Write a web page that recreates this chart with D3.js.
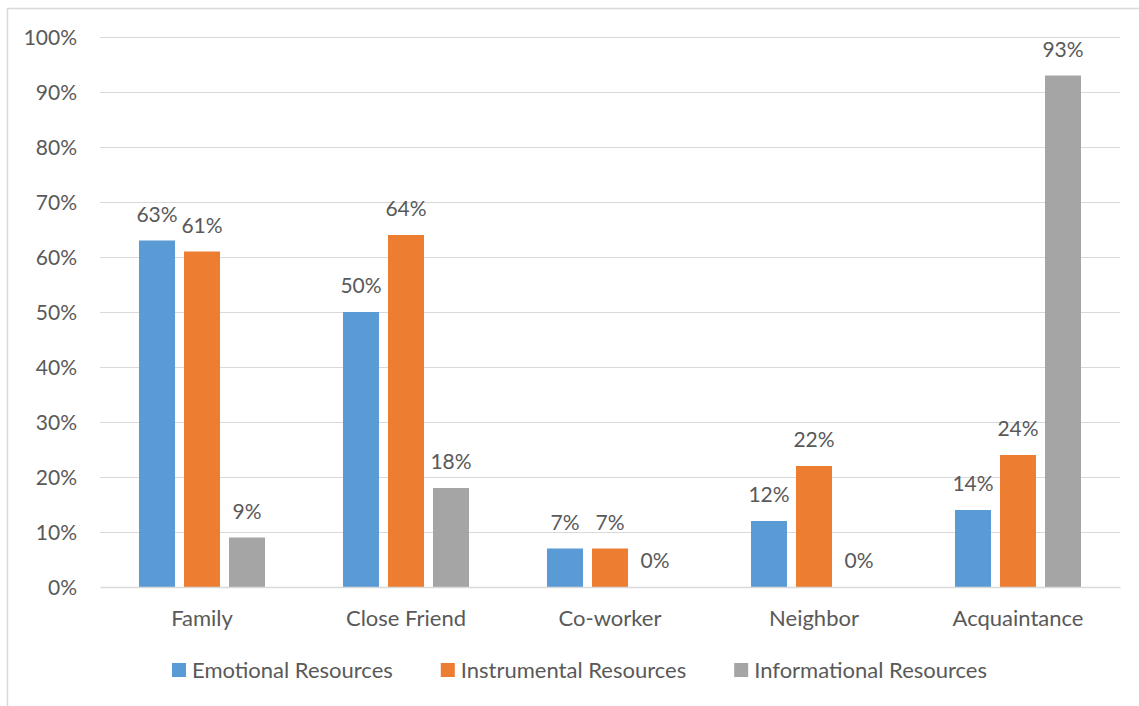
<!DOCTYPE html>
<html>
<head>
<meta charset="utf-8">
<script src="https://cdn.jsdelivr.net/npm/d3@7"></script>
<style>
  html, body { margin: 0; padding: 0; background: #fff; }
  svg text { font-family: Lato, "Open Sans", sans-serif; fill: #595959; }
</style>
</head>
<body>
<svg id="chart" width="1139" height="706"></svg>
<script>
// Categories of social ties and the share of each resource type received from them
const categories = ["Family", "Close Friend", "Co-worker", "Neighbor", "Acquaintance"];
const seriesNames = ["Emotional Resources", "Instrumental Resources", "Informational Resources"];
const emotional     = [63, 50, 7, 12, 14];
const instrumental  = [61, 64, 7, 22, 24];
const informational = [9, 18, 0, 0, 93];
const yTicks = [0, 10, 20, 30, 40, 50, 60, 70, 80, 90, 100];
const colors = ["#5B9BD5", "#ED7D31", "#A5A5A5"];

const seriesValues = [emotional, instrumental, informational];

const svg = d3.select("#chart");
const W = 1139, H = 706;
const FONT = "Lato, 'Open Sans', sans-serif";

// outer chart frame (left + top edges visible)
svg.append("path")
  .attr("d", `M7.5,${H} L7.5,8.5 L${W},8.5`)
  .attr("fill", "none")
  .attr("stroke", "#d9d9d9")
  .attr("stroke-width", 1.5);

const plot = { left: 100, right: 1120, top: 37, bottom: 587 };

const x0 = d3.scaleBand().domain(categories).range([plot.left, plot.right]).paddingInner(0).paddingOuter(0);
const groupWidth = 126;
const x1 = d3.scaleBand().domain(seriesNames).range([0, groupWidth]).paddingInner(0.2).paddingOuter(0);
const y = d3.scaleLinear().domain([0, 100]).range([plot.bottom, plot.top]);

// horizontal gridlines
svg.append("g")
  .selectAll("line")
  .data(yTicks.filter(t => t > 0))
  .join("line")
  .attr("x1", plot.left).attr("x2", plot.right)
  .attr("y1", d => Math.round(y(d)) + 0.5).attr("y2", d => Math.round(y(d)) + 0.5)
  .attr("stroke", "#d9d9d9").attr("stroke-width", 1.2);

// y-axis labels
const yAxis = d3.axisLeft(y).tickValues(yTicks).tickFormat(d => d + "%").tickSize(0).tickPadding(0);
const gy = svg.append("g").attr("transform", "translate(77,0)").call(yAxis);
gy.select(".domain").remove();
gy.selectAll("text")
  .attr("font-family", FONT)
  .attr("font-size", 21)
  .attr("fill", "#595959")
  .attr("dy", "0.36em");

// bars
const groups = svg.append("g")
  .selectAll("g")
  .data(categories.map((c, i) => ({ cat: c, vals: seriesValues.map((s, k) => ({ name: seriesNames[k], v: s[i], k })) })))
  .join("g")
  .attr("transform", d => `translate(${x0(d.cat) + (x0.bandwidth() - groupWidth) / 2},0)`);

groups.selectAll("rect")
  .data(d => d.vals)
  .join("rect")
  .attr("x", d => x1(d.name))
  .attr("width", x1.bandwidth())
  .attr("y", d => y(d.v))
  .attr("height", d => y(0) - y(d.v))
  .attr("fill", d => colors[d.k]);

// value labels
groups.selectAll("text")
  .data(d => d.vals)
  .join("text")
  .attr("x", d => x1(d.name) + x1.bandwidth() / 2)
  .attr("y", d => y(d.v) - 19)
  .attr("text-anchor", "middle")
  .attr("font-size", 21)
  .text(d => d.v + "%");

// baseline axis with category labels
const xAxis = d3.axisBottom(x0).tickSize(0).tickPadding(0);
const gx = svg.append("g").attr("transform", `translate(0,${plot.bottom})`).call(xAxis);
gx.select(".domain").attr("stroke", "#d9d9d9").attr("stroke-width", 1.6);
gx.selectAll("text")
  .attr("font-family", FONT)
  .attr("font-size", 22)
  .attr("fill", "#595959")
  .attr("dy", 0)
  .attr("y", 39);

// legend
const legend = svg.append("g").attr("transform", "translate(0,670)");
let lx = 172;
seriesNames.forEach((name, k) => {
  const item = legend.append("g").attr("transform", `translate(${lx},0)`);
  item.append("rect").attr("x", 0).attr("y", -7).attr("width", 14).attr("height", 14).attr("fill", colors[k]);
  const t = item.append("text").attr("x", 20).attr("y", 8).attr("font-size", 22).text(name);
  lx += 20 + t.node().getComputedTextLength() + 48;
});
</script>
</body>
</html>
